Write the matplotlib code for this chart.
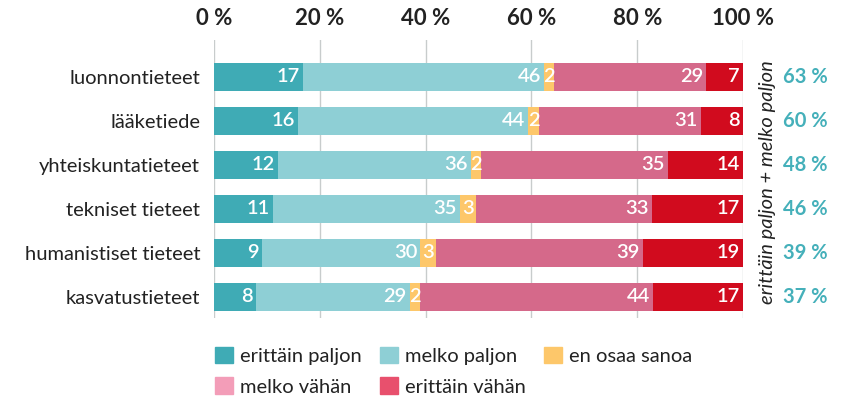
import numpy as np
import matplotlib.pyplot as plt
from matplotlib.patches import Patch

plt.rcParams['font.family'] = ['Lato', 'DejaVu Sans']

categories = ["luonnontieteet", "lääketiede", "yhteiskuntatieteet",
              "tekniset tieteet", "humanistiset tieteet", "kasvatustieteet"]
series_names = ["erittäin paljon", "melko paljon", "en osaa sanoa",
                "melko vähän", "erittäin vähän"]
erittain_paljon = [17, 16, 12, 11, 9, 8]
melko_paljon = [46, 44, 36, 35, 30, 29]
en_osaa = [2, 2, 2, 3, 3, 2]
melko_vahan = [29, 31, 35, 33, 39, 44]
erittain_vahan = [7, 8, 14, 17, 19, 17]
totals_label = ["63 %", "60 %", "48 %", "46 %", "39 %", "37 %"]
xticks = [0, 20, 40, 60, 80, 100]

bar_colors = ["#3fabb5", "#8ecfd5", "#fdc76a", "#d5698a", "#d10b1e"]
legend_colors = ["#3fabb5", "#8ecfd5", "#fdc76a", "#f39db8", "#e8506d"]
teal_text = "#45b0ba"
text_dark = "#222222"

data = np.array([erittain_paljon, melko_paljon, en_osaa, melko_vahan, erittain_vahan], dtype=float)
# rounded values don't always add to 100; scale rows so bars fill the axis
widths = data / data.sum(axis=0) * 100

fig = plt.figure(figsize=(8.45, 4.03), dpi=100)
ax = fig.add_axes([0.2533, 0.2109, 0.626, 0.6898])

y = np.arange(len(categories))
left = np.zeros(len(categories))
for i in range(len(series_names)):
    ax.barh(y, widths[i], left=left, height=0.64, color=bar_colors[i], zorder=2)
    for j in range(len(categories)):
        val = int(data[i, j])
        if val <= 3:
            ax.text(left[j] + widths[i, j] / 2, y[j], str(val), ha='center', va='center',
                    color='white', fontsize=14.5, fontweight='semibold', zorder=3)
        else:
            ax.text(left[j] + widths[i, j] - 0.6, y[j], str(val), ha='right', va='center',
                    color='white', fontsize=14.5, fontweight='semibold', zorder=3)
    left += widths[i]

ax.set_xlim(0, 100)
ax.set_ylim(5.48, -0.84)
ax.set_xticks(xticks)
ax.set_xticklabels([f"{t} %" for t in xticks])
ax.xaxis.tick_top()
ax.tick_params(axis='x', length=0, pad=8, labelsize=16, labelcolor=text_dark)
for lbl in ax.get_xticklabels():
    lbl.set_fontweight('bold')
ax.set_yticks(y)
ax.set_yticklabels(categories)
ax.tick_params(axis='y', length=0, pad=10, labelsize=14.5, labelcolor=text_dark)
ax.grid(axis='x', color='#c8cccc', lw=1, zorder=0)
for s in ax.spines.values():
    s.set_visible(False)

ax.text(1.047, 0.49, "erittäin paljon + melko paljon", transform=ax.transAxes,
        rotation=90, ha='center', va='center', fontsize=14.5, style='italic', color=text_dark)
for j, t in enumerate(totals_label):
    ax.text(1.075, y[j], t, transform=ax.get_yaxis_transform(), ha='left', va='center',
            fontsize=14.5, fontweight='bold', color=teal_text)

handles = [Patch(color=c, label=n) for c, n in zip(legend_colors, series_names)]
order = [0, 3, 1, 4, 2]
fig.legend([handles[k] for k in order], [series_names[k] for k in order],
           ncol=3, loc='upper left', bbox_to_anchor=(0.2544, 0.14), frameon=False,
           fontsize=14.5, handlelength=0.9, handleheight=0.9, handletextpad=0.35,
           columnspacing=0.9, labelspacing=0.62, borderaxespad=0, borderpad=0,
           labelcolor=text_dark)

fig.savefig("out.png", dpi=100)
